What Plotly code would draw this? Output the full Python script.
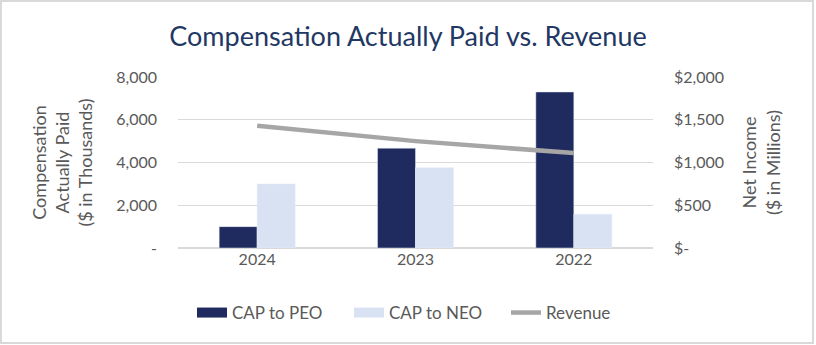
import plotly.graph_objects as go

years = ["2024", "2023", "2022"]
cap_peo = [1000, 4670, 7300]
cap_neo = [3000, 3760, 1580]
revenue = [1430, 1250, 1110]

left_ticks = [0, 2000, 4000, 6000, 8000]
left_text = ["-", "2,000", "4,000", "6,000", "8,000"]
right_ticks = [0, 500, 1000, 1500, 2000]
right_text = ["$-", "$500", "$1,000", "$1,500", "$2,000"]

FONT = "Lato"
GRAY = "#595959"
PEO_C = "#1F2A5E"
NEO_C = "#D9E2F3"
REV_C = "#A6A6A6"

fig = go.Figure()
fig.add_trace(go.Bar(x=years, y=cap_peo, name="CAP to PEO", marker_color=PEO_C,
                     showlegend=False, legendgroup="peo"))
fig.add_trace(go.Bar(x=years, y=cap_neo, name="CAP to NEO", marker_color=NEO_C,
                     showlegend=False, legendgroup="neo"))
fig.add_trace(go.Scatter(x=years, y=revenue, name="Revenue", mode="lines",
                         line=dict(color=REV_C, width=4.5), yaxis="y2", showlegend=False,
                         legendgroup="rev"))
# legend-only entries (wide rectangles like the reference)
fig.add_trace(go.Scatter(x=[None], y=[None], name="CAP to PEO", mode="lines",
                         line=dict(color=PEO_C, width=10), legendgroup="peo"))
fig.add_trace(go.Scatter(x=[None], y=[None], name="CAP to NEO", mode="lines",
                         line=dict(color=NEO_C, width=10), legendgroup="neo"))
fig.add_trace(go.Scatter(x=[None], y=[None], name="Revenue", mode="lines",
                         line=dict(color=REV_C, width=4.5), legendgroup="rev"))

L, R, T, B = 178, 163, 77, 97
W, H = 816, 345
pw, ph = W - L - R, H - T - B

fig.update_layout(
    width=W, height=H,
    margin=dict(l=L, r=R, t=T, b=B),
    paper_bgcolor="white", plot_bgcolor="white",
    font=dict(family=FONT, color=GRAY, size=16),
    title=dict(text="Compensation Actually Paid vs. Revenue", x=0.5, xanchor="center",
               y=1 - 37 / H, yanchor="middle",
               font=dict(family=FONT, size=27, color="#1F3864")),
    barmode="group", bargap=0.52, bargroupgap=0,
    xaxis=dict(showgrid=False, showline=False, ticks="", tickfont=dict(size=16, color=GRAY)),
    yaxis=dict(range=[0, 8000], tickvals=left_ticks, ticktext=left_text,
               gridcolor="#D9D9D9", gridwidth=1, zeroline=True, zerolinecolor="#D9D9D9",
               tickfont=dict(size=16, color=GRAY), ticklabelstandoff=20,
               title=dict(text="Compensation<br>Actually Paid<br>($ in Thousands)",
                          font=dict(size=18, color=GRAY), standoff=18)),
    yaxis2=dict(range=[0, 2000], tickvals=right_ticks, ticktext=right_text,
                overlaying="y", side="right", showgrid=False, zeroline=False,
                tickfont=dict(size=16, color=GRAY), ticklabelstandoff=20,
                title=dict(text="Net Income<br>($ in Millions)",
                           font=dict(size=18, color=GRAY), standoff=20)),
    legend=dict(orientation="h", x=0.5 + 12 / pw, xanchor="center", y=-(313 - 248) / ph,
                yanchor="middle",
                font=dict(size=17, color=GRAY), itemwidth=30, traceorder="normal",
                entrywidth=112),
    showlegend=True,
)

fig.add_shape(type="rect", xref="paper", yref="paper",
              x0=(1 - L) / pw, x1=(813 - L) / pw,
              y0=(T + ph - 343) / ph, y1=(T + ph - 1) / ph,
              line=dict(color="#D9D9D9", width=2), fillcolor="rgba(0,0,0,0)", layer="below")

fig.write_html("out.html")
